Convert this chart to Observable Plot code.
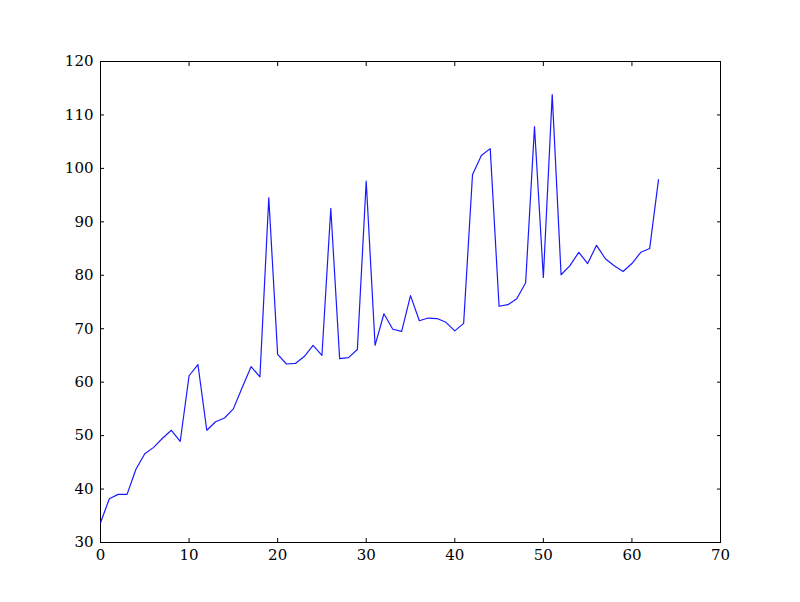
<!DOCTYPE html>
<html>
<head>
<meta charset="utf-8">
<script src="https://cdn.jsdelivr.net/npm/d3@7"></script>
<script src="https://cdn.jsdelivr.net/npm/@observablehq/plot@0.6"></script>
<style>
  html, body { margin: 0; padding: 0; background: #fff; }
  #chart svg { display: block; }
  #chart svg text { font-family: 'DejaVu Serif', serif !important; font-size: 15px !important; }
</style>
</head>
<body>
<div id="chart"></div>
<script>
const xs = d3.range(0, 64);
const values = [
  33.7, 38.2, 39.0, 39.0, 43.7, 46.6, 47.8, 49.5, 51.0, 48.9,
  61.2, 63.3, 51.0, 52.6, 53.3, 55.0, 59.0, 62.9, 61.0, 94.5,
  65.2, 63.4, 63.5, 64.8, 66.9, 65.0, 92.5, 64.4, 64.6, 66.1,
  97.6, 66.9, 72.8, 69.9, 69.5, 76.2, 71.5, 72.0, 71.9, 71.2,
  69.6, 71.0, 98.8, 102.4, 103.7, 74.2, 74.5, 75.6, 78.6, 107.8,
  79.6, 113.8, 80.1, 81.8, 84.3, 82.2, 85.6, 83.1, 81.8, 80.7,
  82.2, 84.3, 85.0, 97.9
];
const xTicks = [0, 10, 20, 30, 40, 50, 60, 70];
const yTicks = [30, 40, 50, 60, 70, 80, 90, 100, 110, 120];

const data = xs.map((x, i) => ({x, y: values[i]}));

const chart = Plot.plot({
  width: 800,
  height: 602,
  marginLeft: 100,
  marginRight: 80,
  marginTop: 61,
  marginBottom: 60,
  style: {fontFamily: "'DejaVu Serif', serif", fontSize: "15px", color: "#000", background: "#fff"},
  x: {domain: [0, 70], ticks: xTicks},
  y: {domain: [30, 120], ticks: yTicks},
  marks: [
    Plot.frame({stroke: "#000", strokeWidth: 1}),
    Plot.axisX(xTicks, {anchor: "bottom", tickSize: 0, tickPadding: 7, label: null, fontSize: 15}),
    Plot.axisY(yTicks, {anchor: "left", tickSize: 0, tickPadding: 7, label: null, fontSize: 15}),
    Plot.axisX(xTicks, {anchor: "bottom", tickSize: -4, text: null, label: null}),
    Plot.axisX(xTicks, {anchor: "top", tickSize: -4, text: null, label: null}),
    Plot.axisY(yTicks, {anchor: "left", tickSize: -4, text: null, label: null}),
    Plot.axisY(yTicks, {anchor: "right", tickSize: -4, text: null, label: null}),
    Plot.line(data, {x: "x", y: "y", stroke: "#0000ff", strokeWidth: 1.2, strokeOpacity: 0.9})
  ]
});
document.getElementById("chart").appendChild(chart);
</script>
</body>
</html>
